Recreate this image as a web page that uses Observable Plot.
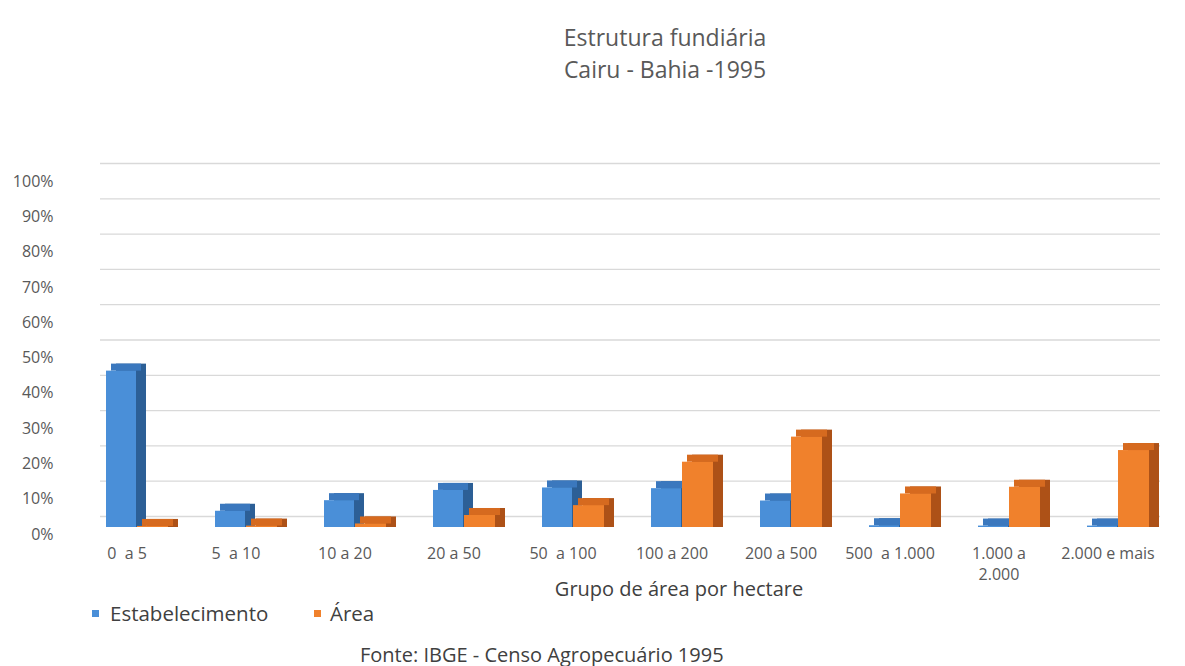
<!DOCTYPE html>
<html>
<head>
<meta charset="utf-8">
<script src="https://cdn.jsdelivr.net/npm/d3@7"></script>
<script src="https://cdn.jsdelivr.net/npm/@observablehq/plot@0.6"></script>
<style>
  body { margin: 0; background: #fff; font-family: "Open Sans", sans-serif; width: 1185px; height: 666px; overflow: hidden; position: relative; }
  #title { position: absolute; left: 0; top: 0; width: 1185px; box-sizing: border-box; padding-top: 22px; padding-left: 145px; text-align: center; font-size: 23px; line-height: 31.5px; color: #595959; }
  #chart { position: absolute; left: 0; top: 120px; }
  #legend { position: absolute; left: 0; top: 600px; width: 1185px; height: 26px; font-size: 20.5px; line-height: 26px; color: #404040; }
  #legend .sw { position: absolute; top: 10px; width: 7px; height: 7px; }
  #legend .lb { position: absolute; top: 0; white-space: nowrap; }
  #caption { position: absolute; left: 360px; top: 641px; font-size: 20px; line-height: 28px; color: #404040; white-space: nowrap; }
</style>
</head>
<body>
<div id="title"><div>Estrutura fundiária</div><div>Cairu - Bahia -1995</div></div>
<div id="chart"></div>
<div id="legend"></div>
<div id="caption">Fonte: IBGE - Censo Agropecuário 1995</div>
<script>
// ---- data ----
const categories = ["0  a 5", "5  a 10", "10 a 20", "20 a 50", "50  a 100", "100 a 200", "200 a 500", "500  a 1.000", "1.000 a\n2.000", "2.000 e mais"];
const estabelecimento = [44.3, 4.6, 7.6, 10.5, 11.2, 11.0, 7.5, 0.5, 0.4, 0.4];
const area = [0.3, 0.4, 1.0, 3.4, 6.2, 18.5, 25.6, 9.5, 11.4, 21.8];
const yTicks = [0, 10, 20, 30, 40, 50, 60, 70, 80, 90, 100];
const seriesNames = ["Estabelecimento", "Área"];
const frontColors = ["#4a8fd8", "#f0812c"];
const topColors = ["#3b78be", "#d66a1f"];
const sideColors = ["#2c5f96", "#ad5117"];
const axisTitle = "Grupo de área por hectare";

const estRows = categories.map((c, i) => ({cat: c, v: estabelecimento[i]}));
const areaRows = categories.map((c, i) => ({cat: c, v: area[i]}));

function bar3d(rows, insetLeft, insetRight, k) {
  return [
    Plot.barY(rows, {x: "cat", y1: 0, y2: "v", dx: 10, dy: -7, insetBottom: -7, insetLeft, insetRight, fill: sideColors[k]}),
    Plot.barY(rows, {x: "cat", y1: "v", y2: "v", dx: 5, insetTop: -7, insetLeft, insetRight, fill: topColors[k]}),
    Plot.barY(rows, {x: "cat", y1: 0, y2: "v", insetLeft, insetRight, fill: frontColors[k]})
  ];
}

const chart = Plot.plot({
  width: 1185,
  height: 510,
  marginTop: 54,
  marginBottom: 103,
  marginLeft: 68,
  marginRight: 20,
  style: {fontFamily: "Open Sans", fontSize: "16px", color: "#595959", background: "transparent"},
  x: {domain: categories, padding: 0, axis: null},
  y: {domain: [0, 100], axis: null},
  marks: [
    Plot.ruleY(yTicks, {y: d => d, dy: -11, insetLeft: 32, insetRight: 5, stroke: "#d9d9d9", strokeWidth: 1.3}),
    Plot.axisY(yTicks, {tickSize: 0, tickPadding: 15, dy: 7, fontSize: 16, tickFormat: d => d + "%", label: null}),
    Plot.axisX({tickSize: 0, tickPadding: 16, fontSize: 16, lineHeight: 1.35, label: null}),
    ...bar3d(estRows, 34, 45, 0),
    ...bar3d(areaRows, 65, 13, 1),
    Plot.text([axisTitle], {frameAnchor: "bottom", dx: 62, dy: 62, lineAnchor: "middle", fontSize: 20, fill: "#404040"})
  ]
});
document.getElementById("chart").appendChild(chart);

// ---- legend ----
const legend = document.getElementById("legend");
const legendX = [[92, 110], [314, 330]];
seriesNames.forEach((name, k) => {
  const sw = document.createElement("span");
  sw.className = "sw"; sw.style.left = legendX[k][0] + "px"; sw.style.background = frontColors[k];
  const lb = document.createElement("span");
  lb.className = "lb"; lb.style.left = legendX[k][1] + "px"; lb.textContent = name;
  legend.appendChild(sw); legend.appendChild(lb);
});
</script>
</body>
</html>
